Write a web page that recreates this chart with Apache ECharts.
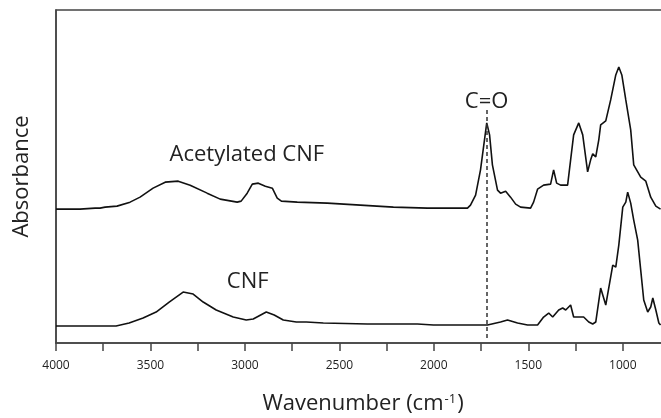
<!DOCTYPE html>
<html>
<head>
<meta charset="utf-8">
<script src="https://cdn.jsdelivr.net/npm/echarts@6/dist/echarts.min.js"></script>
<style>
  html, body { margin: 0; padding: 0; background: #fff; }
  #chart { width: 661px; height: 418px; }
</style>
</head>
<body>
<div id="chart"></div>
<script>
// spectra: [wavenumber, absorbance (a.u., offset)]
var acetylatedCNF = [
  [4000,0.402],[3873,0.402],[3793,0.405],[3767,0.405],[3740,0.408],[3677,0.411],[3608,0.423],
  [3555,0.438],[3486,0.465],[3422,0.483],[3353,0.486],[3290,0.474],[3200,0.450],[3131,0.432],
  [3041,0.423],[3020,0.426],[2988,0.450],[2961,0.477],[2929,0.480],[2892,0.471],[2855,0.465],
  [2829,0.435],[2807,0.426],[2723,0.423],[2564,0.420],[2389,0.414],[2214,0.408],[2034,0.405],
  [1822,0.405],[1806,0.414],[1779,0.444],[1753,0.520],[1732,0.610],[1720,0.661],[1705,0.625],
  [1690,0.535],[1663,0.459],[1647,0.450],[1620,0.456],[1594,0.438],[1567,0.417],[1541,0.408],
  [1488,0.405],[1472,0.423],[1451,0.462],[1419,0.474],[1382,0.477],[1366,0.520],[1350,0.480],
  [1329,0.474],[1292,0.474],[1276,0.550],[1260,0.625],[1233,0.661],[1212,0.625],[1186,0.514],
  [1170,0.550],[1159,0.568],[1143,0.559],[1127,0.610],[1117,0.655],[1090,0.667],[1064,0.730],
  [1037,0.805],[1021,0.829],[1005,0.805],[984,0.730],[958,0.640],[942,0.535],[905,0.498],
  [878,0.486],[852,0.438],[825,0.411],[800,0.402]
];
var cnf = [
  [4000,0.051],[3682,0.051],[3613,0.060],[3539,0.075],[3470,0.093],[3401,0.123],[3327,0.153],
  [3274,0.147],[3221,0.123],[3152,0.099],[3062,0.078],[2993,0.069],[2956,0.072],[2887,0.093],
  [2845,0.084],[2797,0.069],[2728,0.063],[2675,0.063],[2585,0.060],[2352,0.057],[2087,0.057],
  [2002,0.054],[1716,0.054],[1647,0.063],[1610,0.069],[1557,0.060],[1504,0.054],[1451,0.054],
  [1419,0.078],[1392,0.090],[1371,0.078],[1339,0.099],[1318,0.105],[1302,0.099],[1276,0.114],
  [1260,0.078],[1207,0.078],[1180,0.063],[1159,0.057],[1143,0.063],[1133,0.060],[1117,0.165],
  [1090,0.114],[1080,0.108],[1053,0.234],[1037,0.228],[1021,0.294],[1000,0.408],[984,0.423],
  [974,0.453],[958,0.420],[942,0.369],[921,0.309],[905,0.219],[889,0.129],[868,0.093],
  [852,0.108],[841,0.135],[825,0.099],[809,0.060],[800,0.054]
];
var seriesNames = ['Acetylated CNF', 'CNF'];
// label anchors [wavenumber, absorbance]
var acetylLabelPos = [2990, 0.565];
var cnfLabelPos = [2985, 0.183];
var carbonyl = 1720;
var carbonylLabelPos = [1721, 0.724];
var carbonylLine = [0.70, 0.008];

var font = 'Open Sans';
var chart = echarts.init(document.getElementById('chart'));

var option = {
  backgroundColor: '#ffffff',
  animation: false,
  grid: {
    left: 56,
    top: 10,
    width: 614,
    height: 333,
    outerBoundsMode: 'none',
    containLabel: false,
    show: true,
    borderColor: '#444',
    borderWidth: 1.5
  },
  xAxis: {
    type: 'value',
    inverse: true,
    min: 750,
    max: 4000,
    interval: 250,
    name: '{n|Wavenumber (cm}{s|-1}{n|)}',
    nameLocation: 'middle',
    nameGap: 50,
    nameTextStyle: {
      fontFamily: font,
      fontSize: 22,
      color: '#222',
      rich: {
        n: { fontFamily: font, fontSize: 22, color: '#222' },
        s: { fontFamily: font, fontSize: 13, color: '#222', verticalAlign: 'top', padding: [0, 1, 0, 1] }
      }
    },
    axisLine: { lineStyle: { color: '#444', width: 1.5 } },
    axisTick: { show: true, length: 8, lineStyle: { color: '#444', width: 1.5 } },
    axisLabel: {
      margin: 17,
      fontFamily: font,
      fontSize: 12,
      color: '#222',
      formatter: function (v) { return (v % 500 === 0) ? String(v) : ''; }
    },
    splitLine: { show: false }
  },
  yAxis: {
    type: 'value',
    min: 0,
    max: 1,
    name: 'Absorbance',
    nameLocation: 'middle',
    nameGap: 23,
    nameTextStyle: { fontFamily: font, fontSize: 22, color: '#222' },
    axisLine: { show: true, lineStyle: { color: '#444', width: 1.5 } },
    axisTick: { show: false },
    axisLabel: { show: false },
    splitLine: { show: false }
  },
  series: [
    {
      name: seriesNames[0],
      type: 'line',
      data: acetylatedCNF,
      showSymbol: false,
      lineStyle: { color: '#111', width: 1.6 },
      markPoint: {
        symbol: 'circle',
        symbolSize: 0,
        label: {
          show: true,
          position: 'inside',
          fontFamily: font,
          fontSize: 22,
          color: '#222',
          formatter: '{b}'
        },
        data: [
          { name: seriesNames[0], coord: acetylLabelPos },
          { name: 'C=O', coord: carbonylLabelPos }
        ]
      },
      markLine: {
        silent: true,
        symbol: 'none',
        label: { show: false },
        lineStyle: { color: '#333', width: 1.5, type: [4, 3] },
        data: [[{ coord: [carbonyl, carbonylLine[0]] }, { coord: [carbonyl, carbonylLine[1]] }]]
      }
    },
    {
      name: seriesNames[1],
      type: 'line',
      data: cnf,
      showSymbol: false,
      lineStyle: { color: '#111', width: 1.6 },
      markPoint: {
        symbol: 'circle',
        symbolSize: 0,
        label: {
          show: true,
          position: 'inside',
          fontFamily: font,
          fontSize: 22,
          color: '#222',
          formatter: '{b}'
        },
        data: [{ name: seriesNames[1], coord: cnfLabelPos }]
      }
    }
  ]
};
chart.setOption(option);
</script>
</body>
</html>
